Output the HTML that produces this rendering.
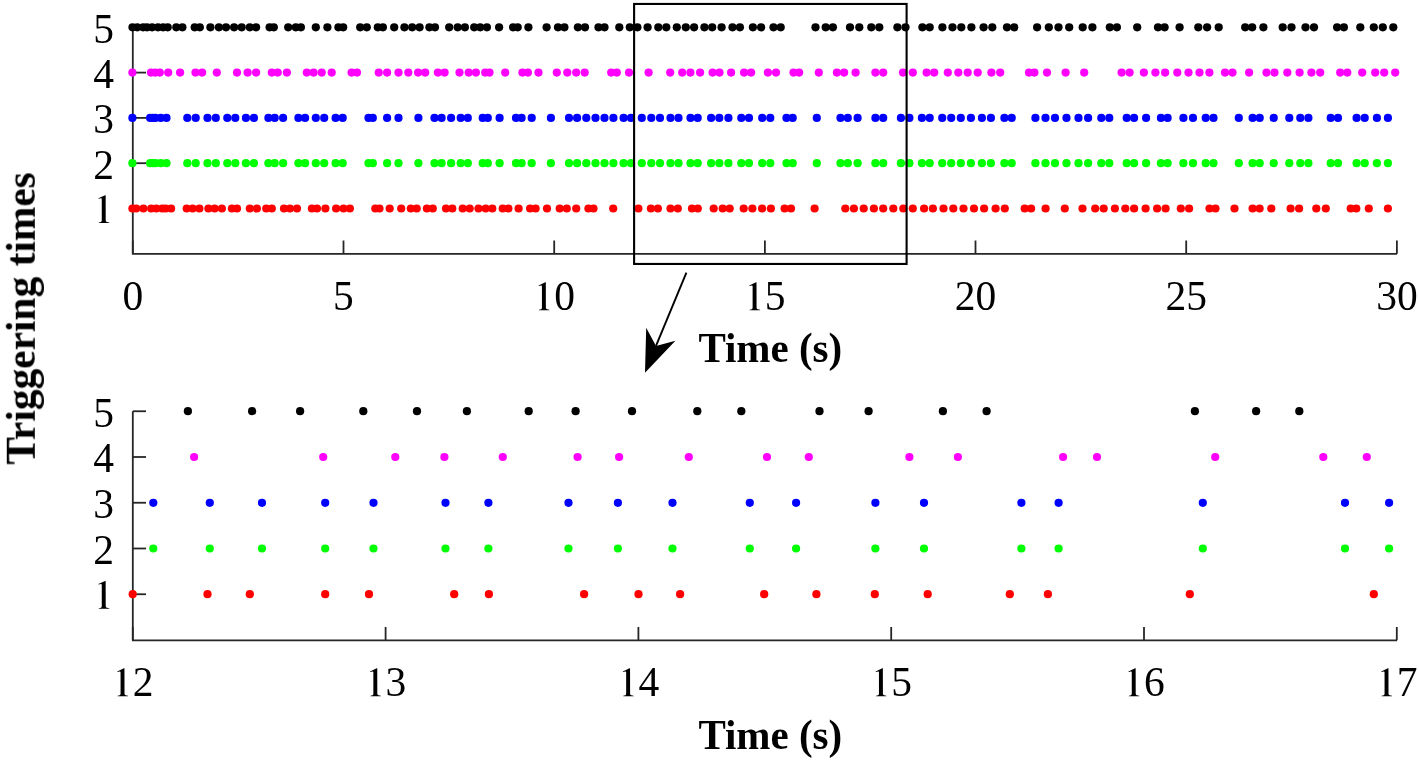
<!DOCTYPE html>
<html><head><meta charset="utf-8"><style>
html,body{margin:0;padding:0;background:#fff;width:1419px;height:762px;overflow:hidden}
svg{display:block}
text{font-family:"Liberation Serif",serif}
</style></head><body><svg width="1419" height="762" viewBox="0 0 1419 762"><g stroke="#262626" stroke-width="1.8" fill="none"><path d="M132.8,27.3 V253.8 H1397"/><path d="M132.8,208.5 H146"/><path d="M132.8,163.2 H146"/><path d="M132.8,117.9 H146"/><path d="M132.8,72.6 H146"/><path d="M132.8,27.3 H146"/><path d="M132.8,253.8 V240.5"/><path d="M343.5,253.8 V240.5"/><path d="M554.2,253.8 V240.5"/><path d="M764.9,253.8 V240.5"/><path d="M975.5,253.8 V240.5"/><path d="M1186.2,253.8 V240.5"/><path d="M1396.9,253.8 V240.5"/></g><g fill="#000000"><circle cx="132.5" cy="27.3" r="4.1"/><circle cx="137.3" cy="27.3" r="4.1"/><circle cx="143.2" cy="27.3" r="4.1"/><circle cx="147.0" cy="27.3" r="4.1"/><circle cx="152.1" cy="27.3" r="4.1"/><circle cx="158.0" cy="27.3" r="4.1"/><circle cx="163.1" cy="27.3" r="4.1"/><circle cx="167.7" cy="27.3" r="4.1"/><circle cx="176.3" cy="27.3" r="4.1"/><circle cx="182.4" cy="27.3" r="4.1"/><circle cx="194.7" cy="27.3" r="4.1"/><circle cx="199.8" cy="27.3" r="4.1"/><circle cx="210.4" cy="27.3" r="4.1"/><circle cx="218.9" cy="27.3" r="4.1"/><circle cx="226.0" cy="27.3" r="4.1"/><circle cx="234.1" cy="27.3" r="4.1"/><circle cx="241.7" cy="27.3" r="4.1"/><circle cx="249.8" cy="27.3" r="4.1"/><circle cx="256.1" cy="27.3" r="4.1"/><circle cx="269.6" cy="27.3" r="4.1"/><circle cx="273.8" cy="27.3" r="4.1"/><circle cx="288.2" cy="27.3" r="4.1"/><circle cx="295.8" cy="27.3" r="4.1"/><circle cx="300.9" cy="27.3" r="4.1"/><circle cx="315.8" cy="27.3" r="4.1"/><circle cx="327.4" cy="27.3" r="4.1"/><circle cx="338.4" cy="27.3" r="4.1"/><circle cx="343.2" cy="27.3" r="4.1"/><circle cx="360.2" cy="27.3" r="4.1"/><circle cx="366.8" cy="27.3" r="4.1"/><circle cx="377.8" cy="27.3" r="4.1"/><circle cx="382.9" cy="27.3" r="4.1"/><circle cx="394.2" cy="27.3" r="4.1"/><circle cx="404.4" cy="27.3" r="4.1"/><circle cx="412.2" cy="27.3" r="4.1"/><circle cx="419.6" cy="27.3" r="4.1"/><circle cx="429.4" cy="27.3" r="4.1"/><circle cx="435.0" cy="27.3" r="4.1"/><circle cx="449.2" cy="27.3" r="4.1"/><circle cx="457.7" cy="27.3" r="4.1"/><circle cx="464.9" cy="27.3" r="4.1"/><circle cx="474.2" cy="27.3" r="4.1"/><circle cx="480.2" cy="27.3" r="4.1"/><circle cx="486.9" cy="27.3" r="4.1"/><circle cx="499.1" cy="27.3" r="4.1"/><circle cx="513.1" cy="27.3" r="4.1"/><circle cx="517.7" cy="27.3" r="4.1"/><circle cx="528.4" cy="27.3" r="4.1"/><circle cx="546.6" cy="27.3" r="4.1"/><circle cx="558.0" cy="27.3" r="4.1"/><circle cx="564.4" cy="27.3" r="4.1"/><circle cx="577.9" cy="27.3" r="4.1"/><circle cx="585.0" cy="27.3" r="4.1"/><circle cx="598.5" cy="27.3" r="4.1"/><circle cx="604.5" cy="27.3" r="4.1"/><circle cx="619.3" cy="27.3" r="4.1"/><circle cx="629.8" cy="27.3" r="4.1"/><circle cx="637.4" cy="27.3" r="4.1"/><circle cx="647.6" cy="27.3" r="4.1"/><circle cx="658.3" cy="27.3" r="4.1"/><circle cx="666.3" cy="27.3" r="4.1"/><circle cx="676.8" cy="27.3" r="4.1"/><circle cx="685.8" cy="27.3" r="4.1"/><circle cx="694.1" cy="27.3" r="4.1"/><circle cx="704.4" cy="27.3" r="4.1"/><circle cx="712.2" cy="27.3" r="4.1"/><circle cx="721.6" cy="27.3" r="4.1"/><circle cx="732.5" cy="27.3" r="4.1"/><circle cx="739.9" cy="27.3" r="4.1"/><circle cx="752.9" cy="27.3" r="4.1"/><circle cx="761.1" cy="27.3" r="4.1"/><circle cx="773.5" cy="27.3" r="4.1"/><circle cx="780.7" cy="27.3" r="4.1"/><circle cx="815.5" cy="27.3" r="4.1"/><circle cx="825.7" cy="27.3" r="4.1"/><circle cx="832.9" cy="27.3" r="4.1"/><circle cx="850.0" cy="27.3" r="4.1"/><circle cx="859.3" cy="27.3" r="4.1"/><circle cx="871.3" cy="27.3" r="4.1"/><circle cx="879.3" cy="27.3" r="4.1"/><circle cx="897.4" cy="27.3" r="4.1"/><circle cx="905.5" cy="27.3" r="4.1"/><circle cx="922.4" cy="27.3" r="4.1"/><circle cx="929.7" cy="27.3" r="4.1"/><circle cx="942.4" cy="27.3" r="4.1"/><circle cx="952.5" cy="27.3" r="4.1"/><circle cx="961.3" cy="27.3" r="4.1"/><circle cx="971.4" cy="27.3" r="4.1"/><circle cx="983.6" cy="27.3" r="4.1"/><circle cx="992.3" cy="27.3" r="4.1"/><circle cx="1007.0" cy="27.3" r="4.1"/><circle cx="1014.2" cy="27.3" r="4.1"/><circle cx="1037.1" cy="27.3" r="4.1"/><circle cx="1048.8" cy="27.3" r="4.1"/><circle cx="1058.5" cy="27.3" r="4.1"/><circle cx="1069.2" cy="27.3" r="4.1"/><circle cx="1082.7" cy="27.3" r="4.1"/><circle cx="1092.4" cy="27.3" r="4.1"/><circle cx="1109.8" cy="27.3" r="4.1"/><circle cx="1116.9" cy="27.3" r="4.1"/><circle cx="1137.2" cy="27.3" r="4.1"/><circle cx="1158.0" cy="27.3" r="4.1"/><circle cx="1164.6" cy="27.3" r="4.1"/><circle cx="1179.6" cy="27.3" r="4.1"/><circle cx="1198.3" cy="27.3" r="4.1"/><circle cx="1207.1" cy="27.3" r="4.1"/><circle cx="1218.7" cy="27.3" r="4.1"/><circle cx="1245.2" cy="27.3" r="4.1"/><circle cx="1252.2" cy="27.3" r="4.1"/><circle cx="1263.4" cy="27.3" r="4.1"/><circle cx="1282.7" cy="27.3" r="4.1"/><circle cx="1291.5" cy="27.3" r="4.1"/><circle cx="1305.5" cy="27.3" r="4.1"/><circle cx="1314.0" cy="27.3" r="4.1"/><circle cx="1337.1" cy="27.3" r="4.1"/><circle cx="1343.9" cy="27.3" r="4.1"/><circle cx="1360.3" cy="27.3" r="4.1"/><circle cx="1373.8" cy="27.3" r="4.1"/><circle cx="1382.8" cy="27.3" r="4.1"/><circle cx="1393.3" cy="27.3" r="4.1"/></g><g fill="#ff00ff"><circle cx="132.4" cy="72.6" r="4.1"/><circle cx="151.0" cy="72.6" r="4.1"/><circle cx="155.3" cy="72.6" r="4.1"/><circle cx="159.8" cy="72.6" r="4.1"/><circle cx="168.2" cy="72.6" r="4.1"/><circle cx="180.1" cy="72.6" r="4.1"/><circle cx="195.5" cy="72.6" r="4.1"/><circle cx="202.1" cy="72.6" r="4.1"/><circle cx="216.8" cy="72.6" r="4.1"/><circle cx="237.0" cy="72.6" r="4.1"/><circle cx="247.6" cy="72.6" r="4.1"/><circle cx="256.1" cy="72.6" r="4.1"/><circle cx="271.8" cy="72.6" r="4.1"/><circle cx="277.7" cy="72.6" r="4.1"/><circle cx="286.9" cy="72.6" r="4.1"/><circle cx="306.8" cy="72.6" r="4.1"/><circle cx="313.6" cy="72.6" r="4.1"/><circle cx="321.7" cy="72.6" r="4.1"/><circle cx="331.7" cy="72.6" r="4.1"/><circle cx="351.6" cy="72.6" r="4.1"/><circle cx="357.0" cy="72.6" r="4.1"/><circle cx="378.7" cy="72.6" r="4.1"/><circle cx="387.1" cy="72.6" r="4.1"/><circle cx="398.5" cy="72.6" r="4.1"/><circle cx="408.3" cy="72.6" r="4.1"/><circle cx="418.1" cy="72.6" r="4.1"/><circle cx="425.2" cy="72.6" r="4.1"/><circle cx="437.9" cy="72.6" r="4.1"/><circle cx="444.6" cy="72.6" r="4.1"/><circle cx="459.5" cy="72.6" r="4.1"/><circle cx="468.7" cy="72.6" r="4.1"/><circle cx="475.9" cy="72.6" r="4.1"/><circle cx="485.2" cy="72.6" r="4.1"/><circle cx="489.5" cy="72.6" r="4.1"/><circle cx="505.2" cy="72.6" r="4.1"/><circle cx="522.4" cy="72.6" r="4.1"/><circle cx="527.9" cy="72.6" r="4.1"/><circle cx="538.5" cy="72.6" r="4.1"/><circle cx="556.8" cy="72.6" r="4.1"/><circle cx="567.3" cy="72.6" r="4.1"/><circle cx="576.2" cy="72.6" r="4.1"/><circle cx="584.7" cy="72.6" r="4.1"/><circle cx="611.2" cy="72.6" r="4.1"/><circle cx="616.8" cy="72.6" r="4.1"/><circle cx="629.0" cy="72.6" r="4.1"/><circle cx="648.6" cy="72.6" r="4.1"/><circle cx="670.2" cy="72.6" r="4.1"/><circle cx="682.2" cy="72.6" r="4.1"/><circle cx="690.4" cy="72.6" r="4.1"/><circle cx="700.1" cy="72.6" r="4.1"/><circle cx="712.6" cy="72.6" r="4.1"/><circle cx="719.5" cy="72.6" r="4.1"/><circle cx="731.1" cy="72.6" r="4.1"/><circle cx="744.1" cy="72.6" r="4.1"/><circle cx="751.1" cy="72.6" r="4.1"/><circle cx="767.9" cy="72.6" r="4.1"/><circle cx="776.0" cy="72.6" r="4.1"/><circle cx="793.5" cy="72.6" r="4.1"/><circle cx="799.1" cy="72.6" r="4.1"/><circle cx="818.8" cy="72.6" r="4.1"/><circle cx="836.9" cy="72.6" r="4.1"/><circle cx="844.1" cy="72.6" r="4.1"/><circle cx="855.6" cy="72.6" r="4.1"/><circle cx="875.4" cy="72.6" r="4.1"/><circle cx="883.2" cy="72.6" r="4.1"/><circle cx="903.0" cy="72.6" r="4.1"/><circle cx="912.8" cy="72.6" r="4.1"/><circle cx="926.6" cy="72.6" r="4.1"/><circle cx="934.2" cy="72.6" r="4.1"/><circle cx="947.8" cy="72.6" r="4.1"/><circle cx="958.3" cy="72.6" r="4.1"/><circle cx="967.7" cy="72.6" r="4.1"/><circle cx="977.7" cy="72.6" r="4.1"/><circle cx="991.4" cy="72.6" r="4.1"/><circle cx="1000.2" cy="72.6" r="4.1"/><circle cx="1029.0" cy="72.6" r="4.1"/><circle cx="1034.4" cy="72.6" r="4.1"/><circle cx="1047.0" cy="72.6" r="4.1"/><circle cx="1065.6" cy="72.6" r="4.1"/><circle cx="1084.2" cy="72.6" r="4.1"/><circle cx="1121.6" cy="72.6" r="4.1"/><circle cx="1129.6" cy="72.6" r="4.1"/><circle cx="1143.9" cy="72.6" r="4.1"/><circle cx="1155.4" cy="72.6" r="4.1"/><circle cx="1165.1" cy="72.6" r="4.1"/><circle cx="1177.3" cy="72.6" r="4.1"/><circle cx="1188.5" cy="72.6" r="4.1"/><circle cx="1199.5" cy="72.6" r="4.1"/><circle cx="1209.4" cy="72.6" r="4.1"/><circle cx="1225.0" cy="72.6" r="4.1"/><circle cx="1232.5" cy="72.6" r="4.1"/><circle cx="1249.1" cy="72.6" r="4.1"/><circle cx="1266.5" cy="72.6" r="4.1"/><circle cx="1274.5" cy="72.6" r="4.1"/><circle cx="1287.3" cy="72.6" r="4.1"/><circle cx="1299.6" cy="72.6" r="4.1"/><circle cx="1311.4" cy="72.6" r="4.1"/><circle cx="1320.2" cy="72.6" r="4.1"/><circle cx="1340.2" cy="72.6" r="4.1"/><circle cx="1347.3" cy="72.6" r="4.1"/><circle cx="1362.2" cy="72.6" r="4.1"/><circle cx="1375.2" cy="72.6" r="4.1"/><circle cx="1384.2" cy="72.6" r="4.1"/><circle cx="1395.2" cy="72.6" r="4.1"/></g><g fill="#0000ff"><circle cx="132.4" cy="117.9" r="4.1"/><circle cx="150.1" cy="117.9" r="4.1"/><circle cx="153.0" cy="117.9" r="4.1"/><circle cx="155.5" cy="117.9" r="4.1"/><circle cx="160.8" cy="117.9" r="4.1"/><circle cx="166.5" cy="117.9" r="4.1"/><circle cx="187.3" cy="117.9" r="4.1"/><circle cx="195.7" cy="117.9" r="4.1"/><circle cx="207.5" cy="117.9" r="4.1"/><circle cx="215.8" cy="117.9" r="4.1"/><circle cx="227.3" cy="117.9" r="4.1"/><circle cx="235.3" cy="117.9" r="4.1"/><circle cx="245.9" cy="117.9" r="4.1"/><circle cx="253.9" cy="117.9" r="4.1"/><circle cx="268.4" cy="117.9" r="4.1"/><circle cx="274.7" cy="117.9" r="4.1"/><circle cx="283.1" cy="117.9" r="4.1"/><circle cx="298.4" cy="117.9" r="4.1"/><circle cx="305.1" cy="117.9" r="4.1"/><circle cx="315.8" cy="117.9" r="4.1"/><circle cx="324.2" cy="117.9" r="4.1"/><circle cx="335.6" cy="117.9" r="4.1"/><circle cx="342.7" cy="117.9" r="4.1"/><circle cx="368.5" cy="117.9" r="4.1"/><circle cx="372.8" cy="117.9" r="4.1"/><circle cx="387.1" cy="117.9" r="4.1"/><circle cx="398.5" cy="117.9" r="4.1"/><circle cx="418.4" cy="117.9" r="4.1"/><circle cx="434.5" cy="117.9" r="4.1"/><circle cx="441.6" cy="117.9" r="4.1"/><circle cx="451.1" cy="117.9" r="4.1"/><circle cx="460.7" cy="117.9" r="4.1"/><circle cx="467.8" cy="117.9" r="4.1"/><circle cx="482.7" cy="117.9" r="4.1"/><circle cx="487.8" cy="117.9" r="4.1"/><circle cx="499.6" cy="117.9" r="4.1"/><circle cx="516.0" cy="117.9" r="4.1"/><circle cx="521.6" cy="117.9" r="4.1"/><circle cx="531.7" cy="117.9" r="4.1"/><circle cx="550.9" cy="117.9" r="4.1"/><circle cx="569.0" cy="117.9" r="4.1"/><circle cx="577.1" cy="117.9" r="4.1"/><circle cx="586.3" cy="117.9" r="4.1"/><circle cx="595.5" cy="117.9" r="4.1"/><circle cx="604.5" cy="117.9" r="4.1"/><circle cx="613.4" cy="117.9" r="4.1"/><circle cx="623.6" cy="117.9" r="4.1"/><circle cx="631.0" cy="117.9" r="4.1"/><circle cx="641.8" cy="117.9" r="4.1"/><circle cx="651.3" cy="117.9" r="4.1"/><circle cx="660.0" cy="117.9" r="4.1"/><circle cx="670.5" cy="117.9" r="4.1"/><circle cx="678.5" cy="117.9" r="4.1"/><circle cx="690.5" cy="117.9" r="4.1"/><circle cx="697.7" cy="117.9" r="4.1"/><circle cx="711.1" cy="117.9" r="4.1"/><circle cx="719.3" cy="117.9" r="4.1"/><circle cx="728.4" cy="117.9" r="4.1"/><circle cx="741.3" cy="117.9" r="4.1"/><circle cx="749.0" cy="117.9" r="4.1"/><circle cx="762.2" cy="117.9" r="4.1"/><circle cx="770.3" cy="117.9" r="4.1"/><circle cx="786.5" cy="117.9" r="4.1"/><circle cx="792.7" cy="117.9" r="4.1"/><circle cx="816.8" cy="117.9" r="4.1"/><circle cx="840.5" cy="117.9" r="4.1"/><circle cx="847.8" cy="117.9" r="4.1"/><circle cx="857.6" cy="117.9" r="4.1"/><circle cx="875.4" cy="117.9" r="4.1"/><circle cx="883.2" cy="117.9" r="4.1"/><circle cx="900.9" cy="117.9" r="4.1"/><circle cx="909.4" cy="117.9" r="4.1"/><circle cx="921.9" cy="117.9" r="4.1"/><circle cx="929.7" cy="117.9" r="4.1"/><circle cx="942.2" cy="117.9" r="4.1"/><circle cx="951.2" cy="117.9" r="4.1"/><circle cx="960.8" cy="117.9" r="4.1"/><circle cx="970.9" cy="117.9" r="4.1"/><circle cx="981.9" cy="117.9" r="4.1"/><circle cx="990.9" cy="117.9" r="4.1"/><circle cx="1004.4" cy="117.9" r="4.1"/><circle cx="1011.7" cy="117.9" r="4.1"/><circle cx="1035.4" cy="117.9" r="4.1"/><circle cx="1045.5" cy="117.9" r="4.1"/><circle cx="1055.0" cy="117.9" r="4.1"/><circle cx="1066.5" cy="117.9" r="4.1"/><circle cx="1078.5" cy="117.9" r="4.1"/><circle cx="1088.1" cy="117.9" r="4.1"/><circle cx="1101.3" cy="117.9" r="4.1"/><circle cx="1109.3" cy="117.9" r="4.1"/><circle cx="1126.7" cy="117.9" r="4.1"/><circle cx="1134.1" cy="117.9" r="4.1"/><circle cx="1146.1" cy="117.9" r="4.1"/><circle cx="1160.9" cy="117.9" r="4.1"/><circle cx="1167.6" cy="117.9" r="4.1"/><circle cx="1183.4" cy="117.9" r="4.1"/><circle cx="1193.0" cy="117.9" r="4.1"/><circle cx="1205.7" cy="117.9" r="4.1"/><circle cx="1213.5" cy="117.9" r="4.1"/><circle cx="1238.8" cy="117.9" r="4.1"/><circle cx="1252.6" cy="117.9" r="4.1"/><circle cx="1259.7" cy="117.9" r="4.1"/><circle cx="1273.7" cy="117.9" r="4.1"/><circle cx="1289.3" cy="117.9" r="4.1"/><circle cx="1300.3" cy="117.9" r="4.1"/><circle cx="1308.4" cy="117.9" r="4.1"/><circle cx="1330.7" cy="117.9" r="4.1"/><circle cx="1338.0" cy="117.9" r="4.1"/><circle cx="1356.6" cy="117.9" r="4.1"/><circle cx="1364.7" cy="117.9" r="4.1"/><circle cx="1376.9" cy="117.9" r="4.1"/><circle cx="1387.9" cy="117.9" r="4.1"/></g><g fill="#00ff00"><circle cx="132.4" cy="163.2" r="4.1"/><circle cx="150.1" cy="163.2" r="4.1"/><circle cx="153.0" cy="163.2" r="4.1"/><circle cx="155.5" cy="163.2" r="4.1"/><circle cx="160.8" cy="163.2" r="4.1"/><circle cx="166.5" cy="163.2" r="4.1"/><circle cx="187.3" cy="163.2" r="4.1"/><circle cx="195.7" cy="163.2" r="4.1"/><circle cx="207.5" cy="163.2" r="4.1"/><circle cx="215.8" cy="163.2" r="4.1"/><circle cx="227.3" cy="163.2" r="4.1"/><circle cx="235.3" cy="163.2" r="4.1"/><circle cx="245.9" cy="163.2" r="4.1"/><circle cx="253.9" cy="163.2" r="4.1"/><circle cx="268.4" cy="163.2" r="4.1"/><circle cx="274.7" cy="163.2" r="4.1"/><circle cx="283.1" cy="163.2" r="4.1"/><circle cx="298.4" cy="163.2" r="4.1"/><circle cx="305.1" cy="163.2" r="4.1"/><circle cx="315.8" cy="163.2" r="4.1"/><circle cx="324.2" cy="163.2" r="4.1"/><circle cx="335.6" cy="163.2" r="4.1"/><circle cx="342.7" cy="163.2" r="4.1"/><circle cx="368.5" cy="163.2" r="4.1"/><circle cx="372.8" cy="163.2" r="4.1"/><circle cx="387.1" cy="163.2" r="4.1"/><circle cx="398.5" cy="163.2" r="4.1"/><circle cx="418.4" cy="163.2" r="4.1"/><circle cx="434.5" cy="163.2" r="4.1"/><circle cx="441.6" cy="163.2" r="4.1"/><circle cx="451.1" cy="163.2" r="4.1"/><circle cx="460.7" cy="163.2" r="4.1"/><circle cx="467.8" cy="163.2" r="4.1"/><circle cx="482.7" cy="163.2" r="4.1"/><circle cx="487.8" cy="163.2" r="4.1"/><circle cx="499.6" cy="163.2" r="4.1"/><circle cx="516.0" cy="163.2" r="4.1"/><circle cx="521.6" cy="163.2" r="4.1"/><circle cx="531.7" cy="163.2" r="4.1"/><circle cx="550.9" cy="163.2" r="4.1"/><circle cx="569.0" cy="163.2" r="4.1"/><circle cx="577.1" cy="163.2" r="4.1"/><circle cx="586.3" cy="163.2" r="4.1"/><circle cx="595.5" cy="163.2" r="4.1"/><circle cx="604.5" cy="163.2" r="4.1"/><circle cx="613.4" cy="163.2" r="4.1"/><circle cx="623.6" cy="163.2" r="4.1"/><circle cx="631.0" cy="163.2" r="4.1"/><circle cx="641.8" cy="163.2" r="4.1"/><circle cx="651.3" cy="163.2" r="4.1"/><circle cx="660.0" cy="163.2" r="4.1"/><circle cx="670.5" cy="163.2" r="4.1"/><circle cx="678.5" cy="163.2" r="4.1"/><circle cx="690.5" cy="163.2" r="4.1"/><circle cx="697.7" cy="163.2" r="4.1"/><circle cx="711.1" cy="163.2" r="4.1"/><circle cx="719.3" cy="163.2" r="4.1"/><circle cx="728.4" cy="163.2" r="4.1"/><circle cx="741.3" cy="163.2" r="4.1"/><circle cx="749.0" cy="163.2" r="4.1"/><circle cx="762.2" cy="163.2" r="4.1"/><circle cx="770.3" cy="163.2" r="4.1"/><circle cx="786.5" cy="163.2" r="4.1"/><circle cx="792.7" cy="163.2" r="4.1"/><circle cx="816.8" cy="163.2" r="4.1"/><circle cx="840.5" cy="163.2" r="4.1"/><circle cx="847.8" cy="163.2" r="4.1"/><circle cx="857.6" cy="163.2" r="4.1"/><circle cx="875.4" cy="163.2" r="4.1"/><circle cx="883.2" cy="163.2" r="4.1"/><circle cx="900.9" cy="163.2" r="4.1"/><circle cx="909.4" cy="163.2" r="4.1"/><circle cx="921.9" cy="163.2" r="4.1"/><circle cx="929.7" cy="163.2" r="4.1"/><circle cx="942.2" cy="163.2" r="4.1"/><circle cx="951.2" cy="163.2" r="4.1"/><circle cx="960.8" cy="163.2" r="4.1"/><circle cx="970.9" cy="163.2" r="4.1"/><circle cx="981.9" cy="163.2" r="4.1"/><circle cx="990.9" cy="163.2" r="4.1"/><circle cx="1004.4" cy="163.2" r="4.1"/><circle cx="1011.7" cy="163.2" r="4.1"/><circle cx="1035.4" cy="163.2" r="4.1"/><circle cx="1045.5" cy="163.2" r="4.1"/><circle cx="1055.0" cy="163.2" r="4.1"/><circle cx="1066.5" cy="163.2" r="4.1"/><circle cx="1078.5" cy="163.2" r="4.1"/><circle cx="1088.1" cy="163.2" r="4.1"/><circle cx="1101.3" cy="163.2" r="4.1"/><circle cx="1109.3" cy="163.2" r="4.1"/><circle cx="1126.7" cy="163.2" r="4.1"/><circle cx="1134.1" cy="163.2" r="4.1"/><circle cx="1146.1" cy="163.2" r="4.1"/><circle cx="1160.9" cy="163.2" r="4.1"/><circle cx="1167.6" cy="163.2" r="4.1"/><circle cx="1183.4" cy="163.2" r="4.1"/><circle cx="1193.0" cy="163.2" r="4.1"/><circle cx="1205.7" cy="163.2" r="4.1"/><circle cx="1213.5" cy="163.2" r="4.1"/><circle cx="1238.8" cy="163.2" r="4.1"/><circle cx="1252.6" cy="163.2" r="4.1"/><circle cx="1259.7" cy="163.2" r="4.1"/><circle cx="1273.7" cy="163.2" r="4.1"/><circle cx="1289.3" cy="163.2" r="4.1"/><circle cx="1300.3" cy="163.2" r="4.1"/><circle cx="1308.4" cy="163.2" r="4.1"/><circle cx="1330.7" cy="163.2" r="4.1"/><circle cx="1338.0" cy="163.2" r="4.1"/><circle cx="1356.6" cy="163.2" r="4.1"/><circle cx="1364.7" cy="163.2" r="4.1"/><circle cx="1376.9" cy="163.2" r="4.1"/><circle cx="1387.9" cy="163.2" r="4.1"/></g><g fill="#ff0000"><circle cx="132.4" cy="208.5" r="4.1"/><circle cx="136.2" cy="208.5" r="4.1"/><circle cx="143.4" cy="208.5" r="4.1"/><circle cx="151.2" cy="208.5" r="4.1"/><circle cx="156.3" cy="208.5" r="4.1"/><circle cx="162.2" cy="208.5" r="4.1"/><circle cx="165.6" cy="208.5" r="4.1"/><circle cx="171.1" cy="208.5" r="4.1"/><circle cx="186.7" cy="208.5" r="4.1"/><circle cx="192.7" cy="208.5" r="4.1"/><circle cx="199.4" cy="208.5" r="4.1"/><circle cx="208.4" cy="208.5" r="4.1"/><circle cx="214.6" cy="208.5" r="4.1"/><circle cx="221.9" cy="208.5" r="4.1"/><circle cx="231.9" cy="208.5" r="4.1"/><circle cx="237.0" cy="208.5" r="4.1"/><circle cx="249.8" cy="208.5" r="4.1"/><circle cx="256.9" cy="208.5" r="4.1"/><circle cx="266.2" cy="208.5" r="4.1"/><circle cx="271.8" cy="208.5" r="4.1"/><circle cx="284.0" cy="208.5" r="4.1"/><circle cx="289.9" cy="208.5" r="4.1"/><circle cx="297.0" cy="208.5" r="4.1"/><circle cx="311.9" cy="208.5" r="4.1"/><circle cx="317.0" cy="208.5" r="4.1"/><circle cx="325.4" cy="208.5" r="4.1"/><circle cx="336.1" cy="208.5" r="4.1"/><circle cx="343.5" cy="208.5" r="4.1"/><circle cx="349.9" cy="208.5" r="4.1"/><circle cx="375.3" cy="208.5" r="4.1"/><circle cx="379.5" cy="208.5" r="4.1"/><circle cx="389.7" cy="208.5" r="4.1"/><circle cx="401.2" cy="208.5" r="4.1"/><circle cx="410.8" cy="208.5" r="4.1"/><circle cx="416.7" cy="208.5" r="4.1"/><circle cx="426.9" cy="208.5" r="4.1"/><circle cx="432.8" cy="208.5" r="4.1"/><circle cx="446.0" cy="208.5" r="4.1"/><circle cx="452.3" cy="208.5" r="4.1"/><circle cx="462.7" cy="208.5" r="4.1"/><circle cx="469.7" cy="208.5" r="4.1"/><circle cx="478.5" cy="208.5" r="4.1"/><circle cx="485.7" cy="208.5" r="4.1"/><circle cx="492.3" cy="208.5" r="4.1"/><circle cx="502.7" cy="208.5" r="4.1"/><circle cx="508.4" cy="208.5" r="4.1"/><circle cx="518.6" cy="208.5" r="4.1"/><circle cx="530.1" cy="208.5" r="4.1"/><circle cx="535.6" cy="208.5" r="4.1"/><circle cx="547.0" cy="208.5" r="4.1"/><circle cx="559.7" cy="208.5" r="4.1"/><circle cx="566.8" cy="208.5" r="4.1"/><circle cx="576.2" cy="208.5" r="4.1"/><circle cx="588.4" cy="208.5" r="4.1"/><circle cx="593.5" cy="208.5" r="4.1"/><circle cx="613.2" cy="208.5" r="4.1"/><circle cx="638.4" cy="208.5" r="4.1"/><circle cx="650.9" cy="208.5" r="4.1"/><circle cx="657.9" cy="208.5" r="4.1"/><circle cx="670.5" cy="208.5" r="4.1"/><circle cx="677.8" cy="208.5" r="4.1"/><circle cx="692.0" cy="208.5" r="4.1"/><circle cx="697.8" cy="208.5" r="4.1"/><circle cx="713.7" cy="208.5" r="4.1"/><circle cx="722.7" cy="208.5" r="4.1"/><circle cx="729.7" cy="208.5" r="4.1"/><circle cx="743.7" cy="208.5" r="4.1"/><circle cx="752.4" cy="208.5" r="4.1"/><circle cx="762.1" cy="208.5" r="4.1"/><circle cx="770.9" cy="208.5" r="4.1"/><circle cx="784.6" cy="208.5" r="4.1"/><circle cx="791.0" cy="208.5" r="4.1"/><circle cx="814.6" cy="208.5" r="4.1"/><circle cx="845.3" cy="208.5" r="4.1"/><circle cx="853.9" cy="208.5" r="4.1"/><circle cx="863.7" cy="208.5" r="4.1"/><circle cx="873.9" cy="208.5" r="4.1"/><circle cx="883.2" cy="208.5" r="4.1"/><circle cx="893.3" cy="208.5" r="4.1"/><circle cx="903.3" cy="208.5" r="4.1"/><circle cx="912.8" cy="208.5" r="4.1"/><circle cx="924.1" cy="208.5" r="4.1"/><circle cx="932.9" cy="208.5" r="4.1"/><circle cx="943.5" cy="208.5" r="4.1"/><circle cx="953.3" cy="208.5" r="4.1"/><circle cx="963.5" cy="208.5" r="4.1"/><circle cx="974.0" cy="208.5" r="4.1"/><circle cx="984.1" cy="208.5" r="4.1"/><circle cx="995.6" cy="208.5" r="4.1"/><circle cx="1004.8" cy="208.5" r="4.1"/><circle cx="1024.7" cy="208.5" r="4.1"/><circle cx="1031.1" cy="208.5" r="4.1"/><circle cx="1045.6" cy="208.5" r="4.1"/><circle cx="1064.8" cy="208.5" r="4.1"/><circle cx="1082.5" cy="208.5" r="4.1"/><circle cx="1095.2" cy="208.5" r="4.1"/><circle cx="1103.7" cy="208.5" r="4.1"/><circle cx="1114.9" cy="208.5" r="4.1"/><circle cx="1125.3" cy="208.5" r="4.1"/><circle cx="1134.1" cy="208.5" r="4.1"/><circle cx="1145.6" cy="208.5" r="4.1"/><circle cx="1157.1" cy="208.5" r="4.1"/><circle cx="1165.6" cy="208.5" r="4.1"/><circle cx="1180.8" cy="208.5" r="4.1"/><circle cx="1189.1" cy="208.5" r="4.1"/><circle cx="1209.5" cy="208.5" r="4.1"/><circle cx="1215.5" cy="208.5" r="4.1"/><circle cx="1234.5" cy="208.5" r="4.1"/><circle cx="1252.6" cy="208.5" r="4.1"/><circle cx="1259.6" cy="208.5" r="4.1"/><circle cx="1271.3" cy="208.5" r="4.1"/><circle cx="1290.6" cy="208.5" r="4.1"/><circle cx="1299.1" cy="208.5" r="4.1"/><circle cx="1316.3" cy="208.5" r="4.1"/><circle cx="1325.8" cy="208.5" r="4.1"/><circle cx="1350.7" cy="208.5" r="4.1"/><circle cx="1356.3" cy="208.5" r="4.1"/><circle cx="1368.8" cy="208.5" r="4.1"/><circle cx="1387.9" cy="208.5" r="4.1"/></g><rect x="634.1" y="3.95" width="272.5" height="260" fill="none" stroke="#000" stroke-width="2.1"/><path d="M686.4,272.6 L656,345.9" stroke="#000" stroke-width="1.9" fill="none"/><path d="M645,372.7 L646.2,327.8 L656,345.9 L675.4,340.7 Z" fill="#000"/><g stroke="#262626" stroke-width="1.8" fill="none"><path d="M132.8,411.25 V640.3 H1397"/><path d="M132.8,594.25 H146"/><path d="M132.8,548.50 H146"/><path d="M132.8,502.75 H146"/><path d="M132.8,457.00 H146"/><path d="M132.8,411.25 H146"/><path d="M132.8,640.3 V627"/><path d="M385.6,640.3 V627"/><path d="M638.4,640.3 V627"/><path d="M891.2,640.3 V627"/><path d="M1144.0,640.3 V627"/><path d="M1396.8,640.3 V627"/></g><g fill="#000000"><circle cx="187.9" cy="411.2" r="4.1"/><circle cx="252.1" cy="411.2" r="4.1"/><circle cx="300.1" cy="411.2" r="4.1"/><circle cx="363.3" cy="411.2" r="4.1"/><circle cx="417.0" cy="411.2" r="4.1"/><circle cx="466.9" cy="411.2" r="4.1"/><circle cx="528.7" cy="411.2" r="4.1"/><circle cx="575.6" cy="411.2" r="4.1"/><circle cx="632.0" cy="411.2" r="4.1"/><circle cx="697.3" cy="411.2" r="4.1"/><circle cx="741.3" cy="411.2" r="4.1"/><circle cx="819.5" cy="411.2" r="4.1"/><circle cx="868.6" cy="411.2" r="4.1"/><circle cx="942.9" cy="411.2" r="4.1"/><circle cx="986.6" cy="411.2" r="4.1"/><circle cx="1194.9" cy="411.2" r="4.1"/><circle cx="1256.1" cy="411.2" r="4.1"/><circle cx="1299.3" cy="411.2" r="4.1"/></g><g fill="#ff00ff"><circle cx="194.1" cy="457.0" r="4.1"/><circle cx="323.2" cy="457.0" r="4.1"/><circle cx="395.3" cy="457.0" r="4.1"/><circle cx="444.4" cy="457.0" r="4.1"/><circle cx="502.8" cy="457.0" r="4.1"/><circle cx="577.6" cy="457.0" r="4.1"/><circle cx="619.1" cy="457.0" r="4.1"/><circle cx="688.8" cy="457.0" r="4.1"/><circle cx="767.0" cy="457.0" r="4.1"/><circle cx="808.8" cy="457.0" r="4.1"/><circle cx="909.4" cy="457.0" r="4.1"/><circle cx="957.9" cy="457.0" r="4.1"/><circle cx="1063.1" cy="457.0" r="4.1"/><circle cx="1097.0" cy="457.0" r="4.1"/><circle cx="1215.2" cy="457.0" r="4.1"/><circle cx="1323.3" cy="457.0" r="4.1"/><circle cx="1366.8" cy="457.0" r="4.1"/></g><g fill="#0000ff"><circle cx="153.3" cy="502.8" r="4.1"/><circle cx="209.8" cy="502.8" r="4.1"/><circle cx="262.0" cy="502.8" r="4.1"/><circle cx="325.2" cy="502.8" r="4.1"/><circle cx="373.5" cy="502.8" r="4.1"/><circle cx="445.5" cy="502.8" r="4.1"/><circle cx="488.4" cy="502.8" r="4.1"/><circle cx="568.5" cy="502.8" r="4.1"/><circle cx="617.9" cy="502.8" r="4.1"/><circle cx="672.5" cy="502.8" r="4.1"/><circle cx="749.8" cy="502.8" r="4.1"/><circle cx="796.1" cy="502.8" r="4.1"/><circle cx="875.4" cy="502.8" r="4.1"/><circle cx="924.0" cy="502.8" r="4.1"/><circle cx="1021.4" cy="502.8" r="4.1"/><circle cx="1058.6" cy="502.8" r="4.1"/><circle cx="1202.8" cy="502.8" r="4.1"/><circle cx="1345.0" cy="502.8" r="4.1"/><circle cx="1389.1" cy="502.8" r="4.1"/></g><g fill="#00ff00"><circle cx="153.3" cy="548.5" r="4.1"/><circle cx="209.8" cy="548.5" r="4.1"/><circle cx="262.0" cy="548.5" r="4.1"/><circle cx="325.2" cy="548.5" r="4.1"/><circle cx="373.5" cy="548.5" r="4.1"/><circle cx="445.5" cy="548.5" r="4.1"/><circle cx="488.4" cy="548.5" r="4.1"/><circle cx="568.5" cy="548.5" r="4.1"/><circle cx="617.9" cy="548.5" r="4.1"/><circle cx="672.5" cy="548.5" r="4.1"/><circle cx="749.8" cy="548.5" r="4.1"/><circle cx="796.1" cy="548.5" r="4.1"/><circle cx="875.4" cy="548.5" r="4.1"/><circle cx="924.0" cy="548.5" r="4.1"/><circle cx="1021.4" cy="548.5" r="4.1"/><circle cx="1058.6" cy="548.5" r="4.1"/><circle cx="1202.8" cy="548.5" r="4.1"/><circle cx="1345.0" cy="548.5" r="4.1"/><circle cx="1389.1" cy="548.5" r="4.1"/></g><g fill="#ff0000"><circle cx="132.7" cy="594.2" r="4.1"/><circle cx="207.5" cy="594.2" r="4.1"/><circle cx="249.8" cy="594.2" r="4.1"/><circle cx="325.2" cy="594.2" r="4.1"/><circle cx="369.0" cy="594.2" r="4.1"/><circle cx="454.2" cy="594.2" r="4.1"/><circle cx="488.9" cy="594.2" r="4.1"/><circle cx="584.1" cy="594.2" r="4.1"/><circle cx="638.5" cy="594.2" r="4.1"/><circle cx="680.1" cy="594.2" r="4.1"/><circle cx="764.2" cy="594.2" r="4.1"/><circle cx="816.4" cy="594.2" r="4.1"/><circle cx="874.8" cy="594.2" r="4.1"/><circle cx="927.7" cy="594.2" r="4.1"/><circle cx="1009.8" cy="594.2" r="4.1"/><circle cx="1047.9" cy="594.2" r="4.1"/><circle cx="1189.8" cy="594.2" r="4.1"/><circle cx="1373.8" cy="594.2" r="4.1"/></g><g font-family="Liberation Serif" font-size="41.5" fill="#000" style="filter:grayscale(1)"><text x="93.25" y="178.60">2</text><text x="93.25" y="563.90">2</text><text x="93.25" y="133.30">3</text><text x="93.25" y="518.15">3</text><text x="93.25" y="88.00">4</text><text x="93.25" y="472.40">4</text><text x="93.25" y="42.70">5</text><text x="93.25" y="426.65">5</text><text x="122.43" y="310.30">0</text><text x="333.11" y="310.30">5</text><text x="554.17" y="310.30">0</text><text x="764.86" y="310.30">5</text><text x="954.79" y="310.30">2</text><text x="975.54" y="310.30">0</text><text x="1165.47" y="310.30">2</text><text x="1186.22" y="310.30">5</text><text x="1376.16" y="310.30">3</text><text x="1396.91" y="310.30">0</text><text x="132.80" y="696.30">2</text><text x="385.60" y="696.30">3</text><text x="638.40" y="696.30">4</text><text x="891.20" y="696.30">5</text><text x="1144.00" y="696.30">6</text><text x="1396.80" y="696.30">7</text></g><g fill="#000"><path transform="translate(93.25,223.10) scale(0.020264,-0.020264)" d="M275 0L790 0L790 30C700 38 625 55 615 130L612 1380L585 1380L255 1225L262 1200C310 1218 345 1228 375 1228C405 1228 420 1210 420 1170L420 130C413 55 365 38 275 30Z"/><path transform="translate(93.25,608.85) scale(0.020264,-0.020264)" d="M275 0L790 0L790 30C700 38 625 55 615 130L612 1380L585 1380L255 1225L262 1200C310 1218 345 1228 375 1228C405 1228 420 1210 420 1170L420 130C413 55 365 38 275 30Z"/><path transform="translate(533.42,310.30) scale(0.020264,-0.020264)" d="M275 0L790 0L790 30C700 38 625 55 615 130L612 1380L585 1380L255 1225L262 1200C310 1218 345 1228 375 1228C405 1228 420 1210 420 1170L420 130C413 55 365 38 275 30Z"/><path transform="translate(744.11,310.30) scale(0.020264,-0.020264)" d="M275 0L790 0L790 30C700 38 625 55 615 130L612 1380L585 1380L255 1225L262 1200C310 1218 345 1228 375 1228C405 1228 420 1210 420 1170L420 130C413 55 365 38 275 30Z"/><path transform="translate(112.05,696.30) scale(0.020264,-0.020264)" d="M275 0L790 0L790 30C700 38 625 55 615 130L612 1380L585 1380L255 1225L262 1200C310 1218 345 1228 375 1228C405 1228 420 1210 420 1170L420 130C413 55 365 38 275 30Z"/><path transform="translate(364.85,696.30) scale(0.020264,-0.020264)" d="M275 0L790 0L790 30C700 38 625 55 615 130L612 1380L585 1380L255 1225L262 1200C310 1218 345 1228 375 1228C405 1228 420 1210 420 1170L420 130C413 55 365 38 275 30Z"/><path transform="translate(617.65,696.30) scale(0.020264,-0.020264)" d="M275 0L790 0L790 30C700 38 625 55 615 130L612 1380L585 1380L255 1225L262 1200C310 1218 345 1228 375 1228C405 1228 420 1210 420 1170L420 130C413 55 365 38 275 30Z"/><path transform="translate(870.45,696.30) scale(0.020264,-0.020264)" d="M275 0L790 0L790 30C700 38 625 55 615 130L612 1380L585 1380L255 1225L262 1200C310 1218 345 1228 375 1228C405 1228 420 1210 420 1170L420 130C413 55 365 38 275 30Z"/><path transform="translate(1123.25,696.30) scale(0.020264,-0.020264)" d="M275 0L790 0L790 30C700 38 625 55 615 130L612 1380L585 1380L255 1225L262 1200C310 1218 345 1228 375 1228C405 1228 420 1210 420 1170L420 130C413 55 365 38 275 30Z"/><path transform="translate(1376.05,696.30) scale(0.020264,-0.020264)" d="M275 0L790 0L790 30C700 38 625 55 615 130L612 1380L585 1380L255 1225L262 1200C310 1218 345 1228 375 1228C405 1228 420 1210 420 1170L420 130C413 55 365 38 275 30Z"/></g><g font-family="Liberation Serif" font-weight="bold" font-size="41" fill="#000" style="filter:grayscale(1)"><text transform="translate(770.3,361.6) scale(1,1.03)" text-anchor="middle">Time (s)</text><text transform="translate(770.3,749) scale(1,1.03)" text-anchor="middle">Time (s)</text><text transform="translate(34.8,318.4) rotate(-90)" text-anchor="middle" font-size="41.4">Triggering times</text></g></svg></body></html>
